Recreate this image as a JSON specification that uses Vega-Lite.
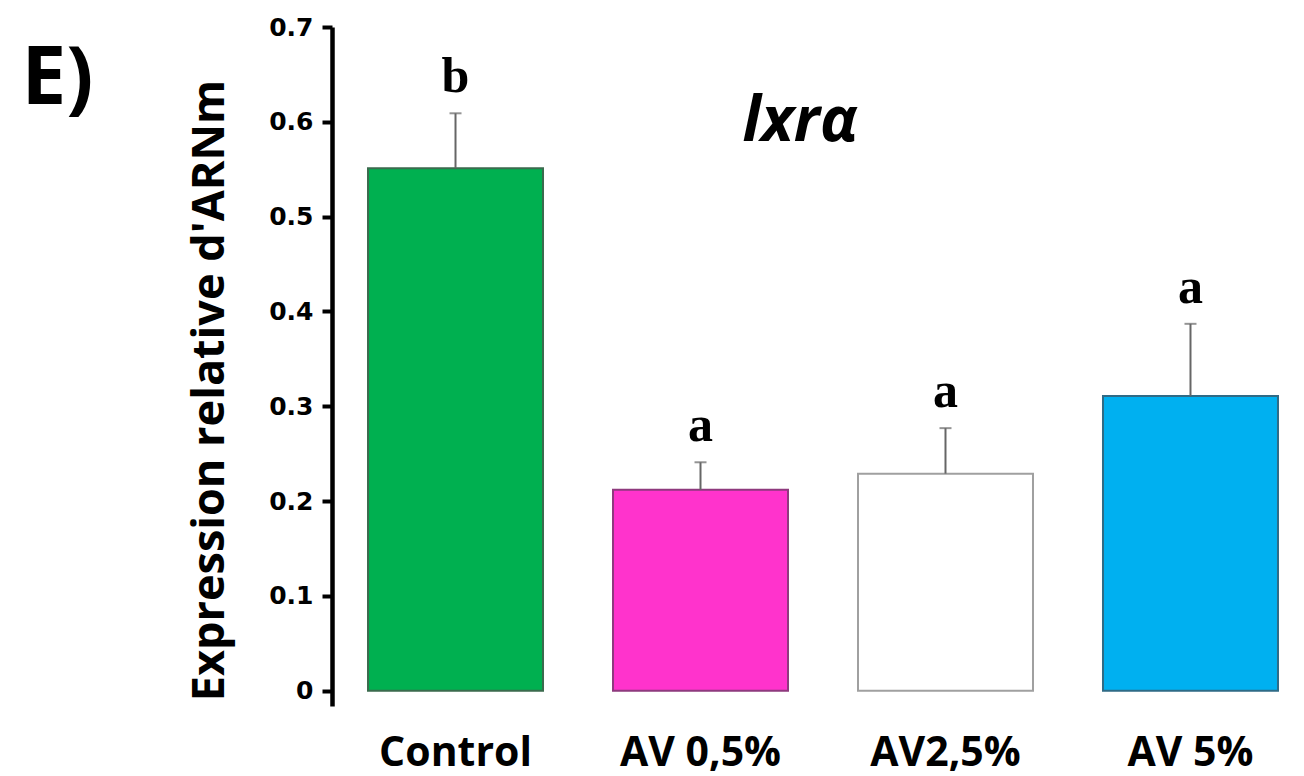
{
  "$schema": "https://vega.github.io/schema/vega-lite/v6.json",
  "autosize": "none",
  "width": 972,
  "height": 679,
  "padding": {"left": 332, "top": 27, "right": 0, "bottom": 70},
  "background": "white",
  "config": {
    "view": {"stroke": null},
    "axisY": {
      "grid": false,
      "domainColor": "black",
      "domainWidth": 4.5,
      "tickColor": "black",
      "tickWidth": 4,
      "tickSize": 10,
      "labelPadding": 9,
      "labelFont": "DejaVu Sans",
      "labelFontSize": 25,
      "labelFontWeight": "bold",
      "labelColor": "black",
      "titleFont": "Open Sans",
      "titleFontSize": 45,
      "titleFontWeight": "bold",
      "titleColor": "black"
    }
  },
  "title": {
    "text": "lxrα",
    "frame": "group",
    "anchor": "middle",
    "orient": "top",
    "offset": 0,
    "baseline": "alphabetic",
    "dx": -18,
    "dy": 188,
    "font": "Open Sans",
    "fontSize": 62,
    "fontWeight": "bold",
    "fontStyle": "italic",
    "color": "black"
  },
  "data": {
    "values": [
      {"group": "Control", "mean": 0.551, "upper": 0.609, "letter": "b"},
      {"group": "AV 0,5%", "mean": 0.212, "upper": 0.241, "letter": "a"},
      {"group": "AV2,5%", "mean": 0.229, "upper": 0.277, "letter": "a"},
      {"group": "AV 5%", "mean": 0.311, "upper": 0.387, "letter": "a"}
    ]
  },
  "encoding": {
    "x": {
      "field": "group",
      "type": "nominal",
      "sort": null,
      "scale": {"range": [0, 982], "paddingInner": 0.2857, "paddingOuter": 0.147},
      "axis": {
        "title": null,
        "domain": false,
        "ticks": false,
        "tickSize": 0,
        "labelAngle": 0,
        "labelPadding": 59,
        "labelBaseline": "alphabetic",
        "labelFont": "Open Sans",
        "labelFontSize": 41,
        "labelFontWeight": "bold",
        "labelColor": "black"
      }
    }
  },
  "layer": [
    {
      "mark": {"type": "bar", "strokeWidth": 2},
      "encoding": {
        "y": {
          "field": "mean",
          "type": "quantitative",
          "scale": {"domain": [-0.016, 0.7], "nice": false, "zero": false},
          "axis": {
            "title": "Expression relative d'ARNm",
            "values": [0, 0.1, 0.2, 0.3, 0.4, 0.5, 0.6, 0.7],
            "format": "~g",
            "labelFont": "DejaVu Sans",
            "labelFontSize": 25,
            "labelFontWeight": "bold",
            "domainWidth": 4.5,
            "tickWidth": 4,
            "titleAngle": -90,
            "titleAlign": "center",
            "titleBaseline": "alphabetic",
            "titleX": -109,
            "titleY": 363
          }
        },
        "y2": {"datum": 0},
        "fill": {
          "field": "group",
          "type": "nominal",
          "scale": {
            "domain": ["Control", "AV 0,5%", "AV2,5%", "AV 5%"],
            "range": ["#00B050", "#FF33CC", "#FFFFFF", "#00B0F0"]
          },
          "legend": null
        },
        "stroke": {
          "field": "group",
          "type": "nominal",
          "scale": {
            "domain": ["Control", "AV 0,5%", "AV2,5%", "AV 5%"],
            "range": ["#3B6B4E", "#8E3A7E", "#A0A0A0", "#2F6B86"]
          },
          "legend": null
        }
      }
    },
    {
      "mark": {"type": "rule", "color": "#666666", "strokeWidth": 2},
      "encoding": {
        "y": {"field": "mean", "type": "quantitative"},
        "y2": {"field": "upper"}
      }
    },
    {
      "mark": {"type": "tick", "color": "#666666", "thickness": 2, "size": 12, "orient": "horizontal"},
      "encoding": {
        "y": {"field": "upper", "type": "quantitative"}
      }
    },
    {
      "mark": {
        "type": "text",
        "font": "Liberation Serif",
        "fontSize": 50,
        "fontWeight": "bold",
        "color": "black",
        "baseline": "alphabetic",
        "align": "center",
        "dy": -21
      },
      "encoding": {
        "y": {"field": "upper", "type": "quantitative"},
        "text": {"field": "letter"}
      }
    },
    {
      "mark": {"type": "rule", "color": "black", "strokeWidth": 4},
      "encoding": {"y": {"datum": 0}}
    },
    {
      "data": {"values": [{"panel": "E)"}]},
      "mark": {
        "type": "text",
        "font": "Open Sans",
        "fontSize": 80,
        "fontWeight": "bold",
        "color": "black",
        "align": "left",
        "baseline": "alphabetic",
        "dx": -434,
        "dy": 77
      },
      "encoding": {
        "x": {"datum": "Control"},
        "y": {"datum": 0.7},
        "text": {"field": "panel"}
      }
    }
  ]
}
